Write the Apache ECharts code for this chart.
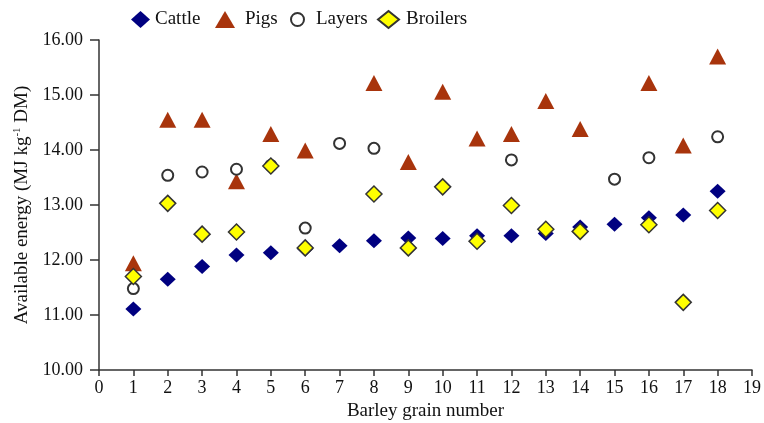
<!DOCTYPE html>
<html><head><meta charset="utf-8">
<script src="https://cdn.jsdelivr.net/npm/echarts@6/dist/echarts.min.js"></script>
<style>html,body{margin:0;padding:0;background:#fff}#c{width:764px;height:423px}</style>
</head><body><div id="c"></div>
<script>
const xTicks = [0,19,1];
const yTicks = [10,16,1];
const seriesNames = ['Cattle','Pigs','Layers','Broilers'];
const cattle = [[1,11.11],[2,11.65],[3,11.88],[4,12.09],[5,12.13],[6,12.2],[7,12.26],[8,12.35],[9,12.40],[10,12.39],[11,12.44],[12,12.44],[13,12.48],[14,12.6],[15,12.65],[16,12.77],[17,12.82],[18,13.25]];
const pigs = [[1,11.94],[2,14.55],[3,14.55],[4,13.43],[5,14.29],[6,13.99],[8,15.22],[9,13.78],[10,15.06],[11,14.21],[12,14.29],[13,14.89],[14,14.38],[16,15.22],[17,14.08],[18,15.70]];
const layers = [[1,11.48],[2,13.54],[3,13.6],[4,13.65],[5,13.72],[6,12.58],[7,14.12],[8,14.03],[12,13.82],[15,13.47],[16,13.86],[18,14.24]];
const broilers = [[1,11.70],[2,13.03],[3,12.47],[4,12.51],[5,13.71],[6,12.22],[8,13.2],[9,12.22],[10,13.33],[11,12.34],[12,12.99],[13,12.56],[14,12.52],[16,12.64],[17,11.23],[18,12.90]];

const font = 'Liberation Serif';
const lgText = {fontFamily:font,fontSize:19,color:'#111'};
function lg(name, left, w, h, pad){
  return {data:[name],top:10,left:left,padding:0,itemWidth:w,itemHeight:h,
    textStyle:Object.assign({},lgText,{padding:[0,0,0,pad]})};
}
const chart = echarts.init(document.getElementById('c'));
chart.setOption({
  animation:false,
  textStyle:{fontFamily:font,color:'#111'},
  legend:[
    lg(seriesNames[0],131,19,17,0),
    lg(seriesNames[1],215,20,17,5),
    lg(seriesNames[2],290,13,13,7),
    lg(seriesNames[3],377,21,17,2)
  ],
  grid:{left:99,right:12,top:40,bottom:53,outerBoundsMode:'none',containLabel:false},
  xAxis:{
    type:'value',min:xTicks[0],max:xTicks[1],interval:xTicks[2],
    name:'Barley grain number',nameLocation:'middle',nameGap:31,
    nameTextStyle:{fontFamily:font,fontSize:19,color:'#111'},
    axisLine:{lineStyle:{color:'#333',width:1.5}},
    axisTick:{show:true,length:6,lineStyle:{color:'#333',width:1.5}},
    axisLabel:{fontFamily:font,fontSize:18,color:'#111',margin:9},
    splitLine:{show:false}
  },
  yAxis:{
    type:'value',min:yTicks[0],max:yTicks[1],interval:yTicks[2],
    name:'Available energy (MJ kg{sup|-1} DM)',nameLocation:'middle',nameGap:66,
    nameTextStyle:{fontFamily:font,fontSize:19,color:'#111',
      rich:{sup:{fontFamily:font,fontSize:11,verticalAlign:'top',padding:[0,0,9,0],color:'#111'}}},
    axisLine:{show:true,lineStyle:{color:'#333',width:1.5}},
    axisTick:{show:true,length:9,lineStyle:{color:'#333',width:1.5}},
    axisLabel:{fontFamily:font,fontSize:18,color:'#111',margin:16,formatter:v=>v.toFixed(2)},
    splitLine:{show:false}
  },
  series:[
    {name:seriesNames[0],type:'scatter',symbol:'diamond',symbolSize:[16,15],data:cattle,
      itemStyle:{color:'#000080',opacity:1}},
    {name:seriesNames[1],type:'scatter',symbol:'triangle',symbolSize:[17,16],data:pigs,
      itemStyle:{color:'#A8340C',opacity:1}},
    {name:seriesNames[2],type:'scatter',symbol:'circle',symbolSize:11,data:layers,
      itemStyle:{color:'#fff',borderColor:'#333',borderWidth:2,opacity:1}},
    {name:seriesNames[3],type:'scatter',symbol:'diamond',symbolSize:[16,16],data:broilers,
      itemStyle:{color:'#FFFF00',borderColor:'#333',borderWidth:1.5,opacity:1}}
  ]
});
</script></body></html>
